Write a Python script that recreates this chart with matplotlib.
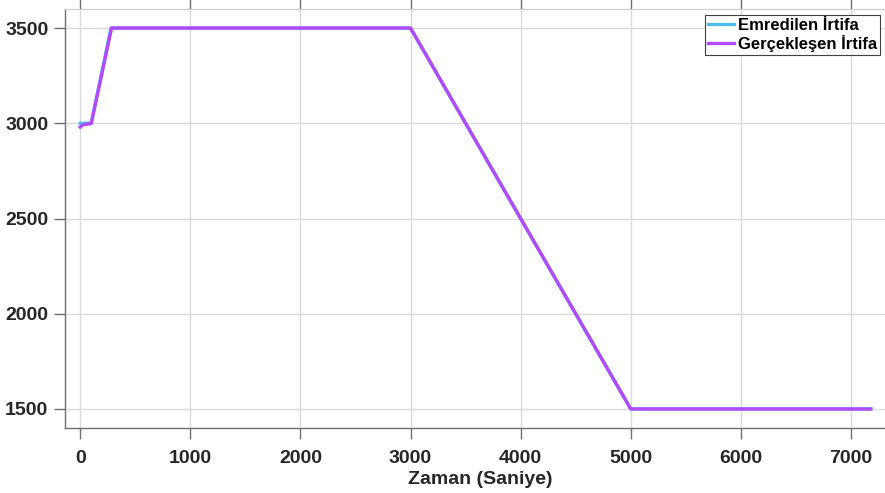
import matplotlib.pyplot as plt

# commanded altitude profile (s, m)
t_cmd = [0, 100, 280, 3000, 5000, 7180]
alt_cmd = [3000, 3000, 3500, 3500, 1500, 1500]

# realised altitude (small dip at start, then follows command)
t_act = [0, 20, 50, 100, 285, 3000, 5000, 7180]
alt_act = [2980, 2990, 2995, 2998, 3500, 3500, 1500, 1500]

xticks = [0, 1000, 2000, 3000, 4000, 5000, 6000, 7000]
yticks = [1500, 2000, 2500, 3000, 3500]

fam = ['Liberation Sans', 'DejaVu Sans']

fig = plt.figure(figsize=(8.85, 4.93), dpi=100)
ax = fig.add_axes([65 / 885, (493 - 428) / 493, 830 / 885, 419 / 493])

ax.plot(t_cmd, alt_cmd, color='#4DBEEE', linewidth=2.4, label='Emredilen İrtifa')
ax.plot(t_act, alt_act, color='#B448FF', linewidth=2.4, label='Gerçekleşen İrtifa')

ax.set_xlim(-138, 7400)
ax.set_ylim(1400, 3600)
ax.set_xticks(xticks)
ax.set_yticks(yticks)
ax.grid(True, color='#DADADA', linewidth=1.0)
ax.set_axisbelow(True)

for s in ['left', 'bottom']:
    ax.spines[s].set_color('#6E6E6E')
    ax.spines[s].set_linewidth(1.0)
ax.spines['top'].set_color('#CDCDCD')
ax.spines['right'].set_visible(False)

ax.tick_params(axis='both', direction='out', length=8, width=1.0, color='#6E6E6E', pad=4)
ax.tick_params(axis='x', top=True, labeltop=False, pad=8)
for tk in ax.xaxis.get_major_ticks():
    tk.tick2line.set_color('#9A9A9A')

for lab in ax.get_xticklabels() + ax.get_yticklabels():
    lab.set_fontfamily(fam)
    lab.set_fontweight('bold')
    lab.set_fontsize(14)
    lab.set_color('#262626')

ax.set_xlabel('Zaman (Saniye)', fontfamily=fam, fontweight='bold', fontsize=14,
              color='#262626', labelpad=3)

leg = ax.legend(loc='upper right', bbox_to_anchor=((880 - 65) / 830, 0.985), fancybox=False,
                framealpha=1, edgecolor='#404040', borderpad=0.15, handlelength=1.6,
                handletextpad=0.25, borderaxespad=0, labelspacing=0.15,
                prop={'family': fam, 'weight': 'bold', 'size': 12})
leg.get_frame().set_linewidth(0.8)

fig.savefig('out.png', dpi=100)
